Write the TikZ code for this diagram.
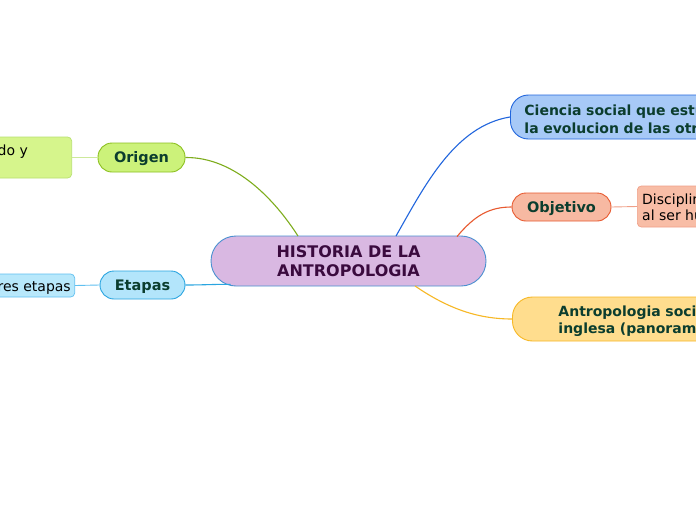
\documentclass[tikz,border=0pt]{standalone}
\usepackage{fontspec}
\setmainfont{DejaVu Sans}
\usetikzlibrary{calc}
\definecolor{dkgreen}{HTML}{0B3D2E}
\definecolor{dkpurple}{HTML}{3A0A3E}
\definecolor{cfill}{HTML}{D9B8E2}
\definecolor{cborder}{HTML}{4A90D0}
\definecolor{ofill}{HTML}{CCF27A}
\definecolor{oborder}{HTML}{8CC020}
\definecolor{olfill}{HTML}{D6F58C}
\definecolor{olborder}{HTML}{B8E070}
\definecolor{efill}{HTML}{B3E5FB}
\definecolor{eborder}{HTML}{2AA5E0}
\definecolor{elfill}{HTML}{B8E8FB}
\definecolor{elborder}{HTML}{60C0F0}
\definecolor{sfill}{HTML}{A7C9F7}
\definecolor{sborder}{HTML}{2266DD}
\definecolor{bfill}{HTML}{F7B9A2}
\definecolor{bborder}{HTML}{E85A30}
\definecolor{blfill}{HTML}{F8BDA6}
\definecolor{blborder}{HTML}{F0A088}
\definecolor{afill}{HTML}{FFDD8E}
\definecolor{aborder}{HTML}{F7B825}
\begin{document}
\begin{tikzpicture}[x=1pt,y=-1pt,
  topic/.style={draw, line width=0.9pt, inner sep=0pt, text=dkgreen,
    font=\fontsize{14.5}{17}\selectfont\bfseries},
  single/.style={text height=13.6pt, text depth=3pt},
  leaf/.style={draw, line width=0.7pt, rounded corners=4pt, inner sep=0pt},
  leaftext/.style={font=\fontsize{14}{16}\selectfont, text=black, inner sep=0pt},
  conn/.style={line width=1.1pt},
]
\useasboundingbox (0,0) rectangle (696,520);
\clip (0,0) rectangle (696,520);
\fill[white] (0,0) rectangle (696,520);

% central
\node[draw=cborder, fill=cfill, line width=0.9pt, rounded corners=25pt,
  minimum width=275pt, minimum height=50pt, inner sep=0pt, text=dkpurple,
  align=center, font=\fontsize{16}{19}\selectfont\bfseries] (center) at (348.5,261)
  {HISTORIA DE LA\\ ANTROPOLOGIA};

% Origen
\node[topic, single, draw=oborder, fill=ofill, rounded corners=14pt,
  minimum width=87pt, minimum height=29pt] (origen) at (141.5,157.5) {Origen};
\node[leaf, draw=olborder, fill=olfill, minimum width=120pt, minimum height=41pt,
  anchor=east] (origenbox) at (72,157.5) {};
\node[leaftext, anchor=base east] (origentext) at (28,155) {do y};

% Etapas
\node[topic, single, draw=eborder, fill=efill, rounded corners=14pt,
  minimum width=85pt, minimum height=28pt] (etapas) at (142.5,285) {Etapas};
\node[leaf, draw=elborder, fill=elfill, minimum width=120pt, minimum height=23pt,
  anchor=east] (etapasbox) at (75,285.5) {};
\node[leaftext, anchor=base east] (etapastext) at (71,291) {res etapas};

% Ciencia
\node[topic, draw=sborder, fill=sfill, rounded corners=18pt,
  minimum width=260pt, minimum height=44pt, anchor=west, align=left,
  text width=232pt, inner xsep=14pt, font=\fontsize{14}{18}\selectfont\bfseries,
  text height=14.3pt] (ciencia) at (510,117)
  {Ciencia social que estu\\la evolucion de las otr};

% Objetivo
\node[topic, single, draw=bborder, fill=bfill, rounded corners=14pt,
  minimum width=99pt, minimum height=28pt] (objetivo) at (561.5,207) {Objetivo};
\node[leaf, draw=blborder, fill=blfill, minimum width=120pt, minimum height=41pt,
  anchor=west] (objbox) at (637,206.5) {};
\node[leaftext, anchor=base west, align=left] (objtext1) at (642,204) {Disciplin};
\node[leaftext, anchor=base west, align=left] (objtext2) at (642,220) {al ser hu};

% Antropologia
\node[topic, draw=aborder, fill=afill, rounded corners=20pt,
  minimum width=260pt, minimum height=44pt, anchor=west, align=left,
  text width=260pt, inner xsep=0pt, font=\fontsize{14}{17}\selectfont\bfseries,
  text height=15.3pt] (antro) at (512,319)
  {\hspace*{46pt}Antropologia socia\\\hspace*{46pt}inglesa (panoram};

% connectors
\draw[conn, color=oborder!90!black] (origen.east) .. controls (235,157) and (275,200) .. ($(center.north)+(-50.5,0.5)$);
\draw[conn, color=sborder] ($(center.north)+(47.5,0.5)$) .. controls (425,185) and (455,126) .. (ciencia.west);
\draw[conn, color=bborder] ($(center.north)+(108.5,1)$) .. controls (475,215) and (490,207) .. (objetivo.west);
\draw[conn, color=aborder] ($(center.south)+(66.5,-0.5)$) .. controls (450,310) and (480,319) .. (antro.west);
\draw[conn, color=eborder] (etapas.east) .. controls (205,285) and (220,284) .. ($(center.south west)+(20,-2)$);
\draw[line width=0.9pt, color=olborder!70!white] (origenbox.east) -- (origen.west);
\draw[line width=0.9pt, color=elborder] (etapasbox.east) -- (etapas.west);
\draw[line width=0.9pt, color=blborder] (objetivo.east) -- (objbox.west);
\end{tikzpicture}
\end{document}
